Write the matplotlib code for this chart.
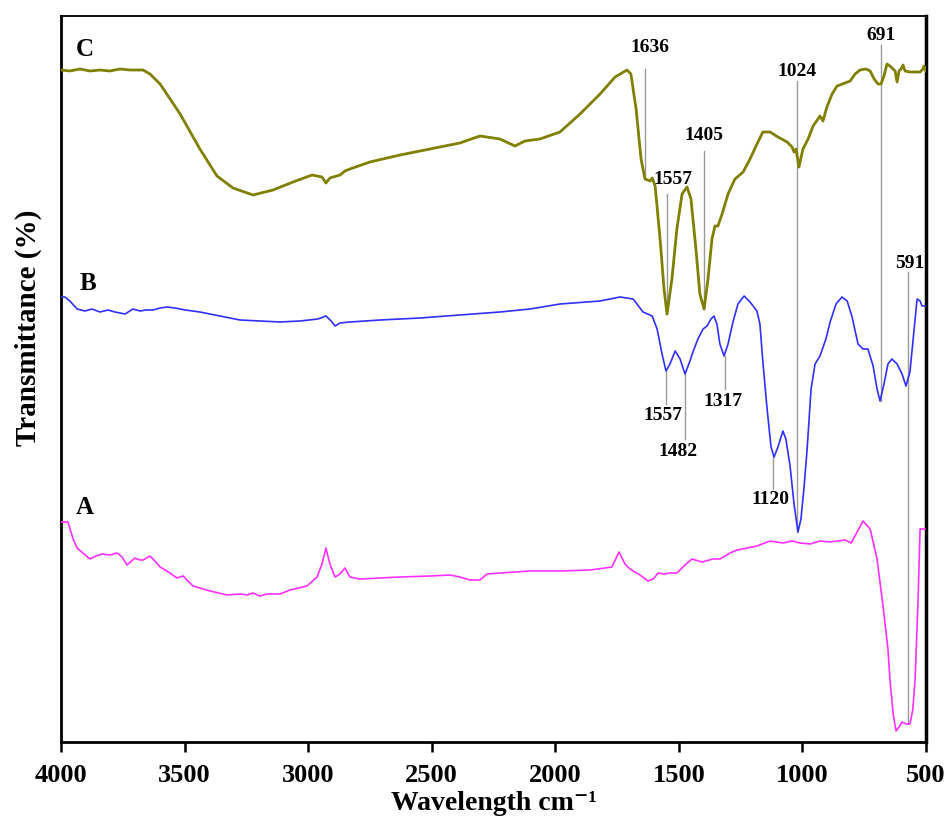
import matplotlib
matplotlib.use("Agg")
import matplotlib.pyplot as plt

# ---- data (wavenumber cm-1, transmittance in arbitrary offset units) ----
c_wn = [4000, 3964, 3923, 3883, 3842, 3802, 3761, 3721, 3668, 3640, 3599, 3518, 3438, 3369,
        3304, 3223, 3142, 3061, 2984, 2944, 2928, 2912, 2871, 2851, 2831, 2750, 2628, 2507,
        2386, 2305, 2224, 2163, 2123, 2062, 1981, 1900, 1819, 1758, 1710, 1694, 1673, 1653,
        1637, 1616, 1608, 1596, 1576, 1560, 1548, 1528, 1508, 1487, 1467, 1451, 1431, 1415,
        1398, 1382, 1366, 1354, 1342, 1325, 1301, 1273, 1240, 1212, 1184, 1160, 1131, 1099,
        1062, 1042, 1034, 1026, 1014, 998, 977, 957, 937, 929, 917, 901, 880, 860, 828, 807,
        787, 767, 743, 726, 710, 694, 682, 670, 658, 646, 633, 625, 617, 609, 601, 593, 585,
        565, 524, 512, 508, 500]
c_t = [672, 671, 673, 671, 672, 671, 673, 672, 672, 668, 658, 628, 593, 566,
       554, 547, 552, 560, 567, 565, 559, 564, 567, 571, 573, 580, 587, 593,
       599, 606, 603, 596, 601, 603, 610, 628, 648, 665, 672, 668, 633, 583,
       563, 561, 564, 556, 503, 453, 428, 463, 513, 548, 555, 543, 493, 448,
       433, 463, 503, 516, 516, 528, 548, 563, 570, 583, 598, 610, 610, 605,
       600, 595, 590, 593, 575, 593, 603, 616, 623, 626, 621, 635, 648, 656, 659, 661,
       668, 672, 673, 671, 663, 658, 658, 666, 678, 676, 673, 671, 660, 671, 673, 677, 671,
       670, 670, 673, 676, 671]

b_wn = [4000, 3984, 3964, 3935, 3903, 3875, 3842, 3810, 3782, 3741, 3709, 3680, 3656, 3628,
        3599, 3571, 3539, 3498, 3438, 3357, 3276, 3195, 3114, 3033, 2960, 2928, 2907, 2891,
        2871, 2831, 2709, 2547, 2386, 2224, 2102, 1981, 1819, 1738, 1685, 1645, 1608, 1588,
        1568, 1552, 1536, 1515, 1495, 1475, 1455, 1443, 1423, 1402, 1386, 1370, 1358, 1346,
        1334, 1317, 1301, 1281, 1261, 1236, 1212, 1184, 1172, 1160, 1143, 1127, 1115, 1099,
        1079, 1067, 1050, 1034, 1018, 1006, 994, 981, 965, 949, 929, 905, 888, 864, 840, 819,
        799, 775, 755, 735, 714, 698, 686, 670, 654, 638, 617, 597, 581, 565, 548, 536, 524,
        516, 500]
b_t = [445, 445, 441, 433, 431, 433, 430, 432, 430, 428, 433, 431, 432, 432,
       434, 435, 434, 432, 430, 426, 422, 421, 420, 421, 423, 426, 421, 416,
       419, 420, 422, 424, 427, 430, 433, 438, 441, 445, 443, 430, 426, 413,
       388, 371, 378, 391, 383, 368, 381, 390, 403, 413, 416, 423, 426, 418,
       398, 386, 398, 420, 438, 446, 440, 431, 418, 380, 333, 295, 285, 295,
       311, 303, 276, 238, 210, 223, 253, 293, 353, 378, 386, 403, 420, 438, 445, 441,
       425, 398, 393, 393, 376, 353, 341, 358, 378, 383, 378, 368, 356, 370, 413, 443, 441,
       436, 436]

a_wn = [4000, 3972, 3951, 3935, 3907, 3883, 3858, 3834, 3802, 3773, 3753, 3733, 3701, 3680,
        3668, 3640, 3620, 3599, 3559, 3531, 3506, 3486, 3466, 3438, 3397, 3328, 3276, 3247,
        3223, 3195, 3166, 3114, 3073, 3005, 2964, 2944, 2928, 2912, 2891, 2871, 2851, 2831,
        2790, 2628, 2507, 2426, 2386, 2345, 2305, 2276, 2224, 2102, 1981, 1859, 1799, 1771,
        1742, 1718, 1698, 1657, 1625, 1604, 1584, 1560, 1536, 1508, 1475, 1447, 1406, 1362,
        1334, 1293, 1265, 1224, 1184, 1131, 1079, 1042, 1010, 969, 929, 888, 828, 803, 783,
        755, 726, 698, 674, 654, 646, 633, 621, 609, 597, 581, 565, 553, 544, 532, 524, 504,
        500]
a_t = [220, 220, 203, 194, 188, 183, 186, 188, 187, 189, 185, 177, 184, 182,
       182, 186, 181, 175, 169, 164, 166, 161, 156, 154, 151, 147, 148, 147,
       149, 146, 148, 148, 152, 156, 165, 178, 194, 178, 165, 168, 174, 165,
       163, 165, 166, 167, 165, 162, 162, 168, 169, 171, 171, 172, 174, 175,
       190, 178, 173, 167, 161, 163, 169, 168, 169, 169, 177, 183, 180, 183,
       183, 189, 192, 194, 196, 201, 199, 201, 199, 198, 201, 200, 202, 199, 208,
       221, 213, 183, 136, 93, 63, 28, 11, 15, 20, 18, 18, 33, 63, 143, 213, 213,
       213]

# peak annotations: label, line position, line bottom, line top, label x, label y
ann_labels = ["1636", "1557", "1405", "1024", "691", "591", "1557", "1482", "1317", "1120"]
ann_line_x = [1637, 1548, 1398, 1021, 682, 573, 1552, 1475, 1313, 1119]
ann_y0 = [563, 428, 433, 210, 341, 18, 338, 303, 353, 253]
ann_y1 = [673, 548, 591, 661, 697, 470, 371, 368, 386, 285]
ann_text_x = [1615, 1524, 1398, 1021, 682, 565, 1564, 1503, 1321, 1131]
ann_text_y = [696, 563, 607, 672, 708, 480, 328, 292, 341, 243]

series_names = ["C", "B", "A"]
name_x = [3905, 3890, 3905]
name_y = [693, 460, 235]

xticks = [4000, 3500, 3000, 2500, 2000, 1500, 1000, 500]

# ---- figure ----
serif = ["Liberation Serif", "DejaVu Serif"]
plt.rcParams["font.family"] = serif
plt.rcParams["font.weight"] = "bold"

fig = plt.figure(figsize=(9.44, 8.2), dpi=100)
ax = fig.add_axes([61 / 944, 1 - 743 / 820, 865 / 944, 726 / 820])

ax.plot(c_wn, c_t, color="#808000", lw=2.0, zorder=3)
ax.plot(b_wn, b_t, color="#3030ff", lw=1.2, zorder=3)
ax.plot(a_wn, a_t, color="#ff30ff", lw=1.2, zorder=3)

for lab, lx, y0, y1, tx, ty in zip(ann_labels, ann_line_x, ann_y0, ann_y1, ann_text_x, ann_text_y):
    ax.plot([lx, lx], [y0, y1], color="#999999", lw=1.0, zorder=2)
    ax.text(tx, ty, lab, ha="center", va="center", fontsize=14, fontweight="bold")

for nm, nx, ny in zip(series_names, name_x, name_y):
    ax.text(nx, ny, nm, ha="center", va="center", fontsize=18, fontweight="bold")

ax.set_xlim(4000, 500)
ax.set_ylim(0, 726)
ax.set_xticks(xticks)
ax.set_xticklabels([str(t) for t in xticks], fontsize=19, fontweight="bold")
ax.set_yticks([])
ax.tick_params(axis="x", direction="out", length=7, width=1.8, pad=8)

for side, lw in (("left", 2.0), ("bottom", 2.0), ("right", 2.5), ("top", 1.3)):
    ax.spines[side].set_linewidth(lw)
    ax.spines[side].set_color("black")

ax.set_xlabel("Wavelength cm\u207b\u00b9", fontsize=20, fontweight="bold", labelpad=3)
fig.text(28 / 944, 1 - 328 / 820, "Transmittance (%)", rotation=90, ha="center", va="center",
         fontsize=21, fontweight="bold")

fig.savefig("out.png", dpi=100)
